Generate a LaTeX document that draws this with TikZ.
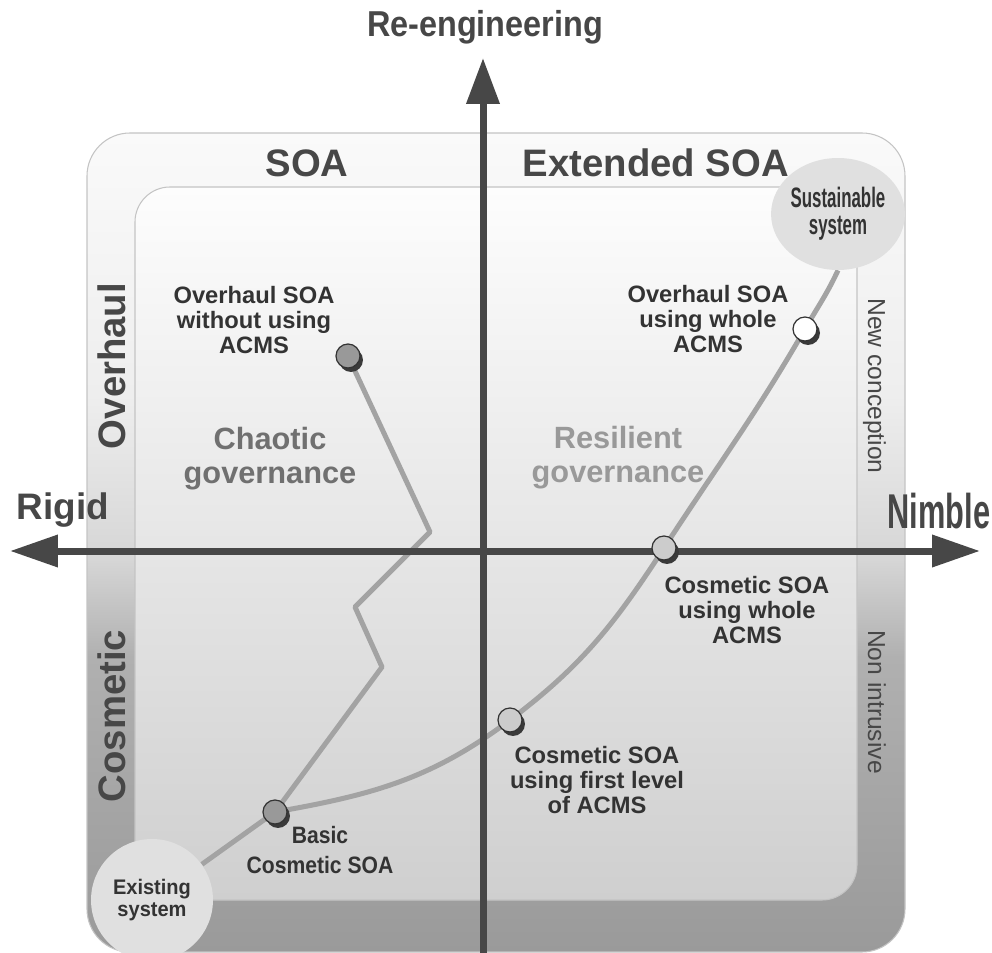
\documentclass[tikz,border=0pt]{standalone}
\usepackage{fontspec}
\setmainfont{Liberation Sans}
\usetikzlibrary{arrows.meta,shadows,shapes.geometric}

\definecolor{ink}{HTML}{474747}
\definecolor{txt}{HTML}{333333}
\definecolor{trackgray}{HTML}{A3A3A3}
\definecolor{shadowgray}{HTML}{3A3A3A}
\definecolor{framegray}{HTML}{C4C4C4}
\definecolor{sysgray}{HTML}{E0E0E0}
\definecolor{darkdot}{HTML}{999999}
\definecolor{lightdot}{HTML}{CCCCCC}
\definecolor{band0}{HTML}{FAFAFA}
\definecolor{band1}{HTML}{EEEEEE}
\definecolor{band2}{HTML}{D6D6D6}
\definecolor{band3}{HTML}{B0B0B0}
\definecolor{band4}{HTML}{9A9A9A}
\definecolor{innertop}{HTML}{FDFDFD}
\definecolor{innerbot}{HTML}{CFCFCF}

\pgfdeclareverticalshading{bandshade}{100bp}{color(0bp)=(band4); color(25bp)=(band4);
  color(43bp)=(band3); color(49bp)=(band2); color(59bp)=(band1); color(75bp)=(band0);
  color(100bp)=(band0)}

\pgfdeclarelayer{bg}
\pgfdeclarelayer{tracks}
\pgfsetlayers{bg,tracks,main}

\begin{document}
\begin{tikzpicture}[x=0.02cm, y=-0.02cm,
    axis/.style={draw=ink, line width=0.14cm},
    trk/.style={draw=trackgray, line width=0.1cm, line join=round},
    milestone/.style={circle, draw=txt, line width=0.7pt, minimum size=0.48cm, inner sep=0pt,
      general shadow={fill=shadowgray, shadow xshift=0.06cm, shadow yshift=-0.08cm}},
    sys/.style={fill=sysgray, align=center, inner sep=0pt, text=txt},
    lbl/.style={align=center, inner sep=0pt, text=txt, font=\fontsize{13.5}{14.5}\selectfont\bfseries},
    zone/.style={align=center, inner sep=0pt, font=\fontsize{17.5}{19.4}\selectfont\bfseries},
    side/.style={inner sep=0pt, text=ink, anchor=base, font=\fontsize{21.8}{24}\selectfont\bfseries},
    note/.style={inner sep=0pt, text=ink, anchor=base, font=\fontsize{14}{16}\selectfont},
    axislbl/.style={inner sep=0pt, text=ink, anchor=base}
  ]
  \useasboundingbox (0,0) rectangle (992,953);

  % frames
  \begin{pgfonlayer}{bg}
    \draw[framegray, line width=0.6pt, shading=bandshade, rounded corners=0.86cm]
      (87,133) rectangle (905,952);
    \draw[framegray, line width=0.6pt, top color=innertop, bottom color=innerbot, rounded corners=0.7cm]
      (135,187) rectangle (857,900);
  \end{pgfonlayer}

  % milestones
  \node[milestone, fill=darkdot] (ow) at (348,356) {};
  \node[milestone, fill=white] (oa) at (805,329) {};
  \node[milestone, fill=lightdot] (ca) at (664,548) {};
  \node[milestone, fill=lightdot] (cf) at (510,720) {};
  \node[milestone, fill=darkdot] (bc) at (275,812) {};

  \node[sys, circle, minimum size=2.44cm, font=\fontsize{12}{12.5}\selectfont\bfseries\addfontfeatures{FakeStretch=0.95}]
    (ex) at (152,900) {Existing\\system};
  \node[sys, ellipse, minimum width=2.46cm, minimum height=2.24cm,
    font=\fontsize{16}{15.4}\selectfont\bfseries\addfontfeatures{FakeStretch=0.6}]
    (su) at (838,214) {Sustainable\\system};

  \coordinate (z1) at (382,667);
  \coordinate (z2) at (355,607);
  \coordinate (z3) at (430,532);

  \coordinate (n) at (483,58);
  \coordinate (s) at (483,960);
  \coordinate (w) at (10,551);
  \coordinate (e) at (980,551);

  \begin{pgfonlayer}{tracks}
    \draw[trk] (ex) -- (bc.center) -- (z1) -- (z2) -- (z3) -- (ow.center);
    \draw[trk] (bc.center) to[out=10, in=217] (cf.center) to[out=37, in=237] (ca.center)
      to[out=57, in=240] (oa.center) to[out=60, in=245] (su.south);
    \draw[axis, -{Triangle[width=0.64cm, length=0.92cm]}] (s) -- (n);
    \draw[axis, {Triangle[width=0.62cm, length=0.96cm]}-{Triangle[width=0.62cm, length=0.96cm]}] (w) -- (e);
  \end{pgfonlayer}

  % texts
  \node[axislbl, font=\fontsize{20.5}{20}\selectfont\bfseries\addfontfeatures{FakeStretch=0.9}] (reeng) at (485,37) {Re-engineering};
  \node[axislbl, font=\fontsize{21}{21}\selectfont\bfseries] (rigid) at (63,520) {Rigid};
  \node[axislbl, font=\fontsize{27.8}{28}\selectfont\bfseries\addfontfeatures{FakeStretch=0.63}] (nimble) at (939,528) {Nimble};

  \node[side] (soa) at (307,177) {SOA};
  \node[side] (esoa) at (656,177) {Extended SOA};
  \node[side, rotate=90] (overhaul) at (125,366) {Overhaul};
  \node[side, rotate=90] (cosmetic) at (125,716) {Cosmetic};
  \node[note, rotate=-90] (newc) at (868,386) {New conception};
  \node[note, rotate=-90] (nonin) at (868,702) {Non intrusive};

  \node[zone, text=black!56] (chaos) at (270,459) {Chaotic\\governance};
  \node[zone, text=black!40] (resil) at (618,458) {Resilient\\governance};

  \node[lbl] (owl) at (254,320) {Overhaul SOA\\without using\\ACMS};
  \node[lbl] (oal) at (708,319) {Overhaul SOA\\using whole\\ACMS};
  \node[lbl] (cal) at (747,610) {Cosmetic SOA\\using whole\\ACMS};
  \node[lbl] (cfl) at (597,780) {Cosmetic SOA\\using first level\\of ACMS};
  \node[lbl, font=\fontsize{13.5}{17}\selectfont\bfseries\addfontfeatures{FakeStretch=0.89}]
    (bcl) at (320,850) {Basic\\Cosmetic SOA};
\end{tikzpicture}
\end{document}
